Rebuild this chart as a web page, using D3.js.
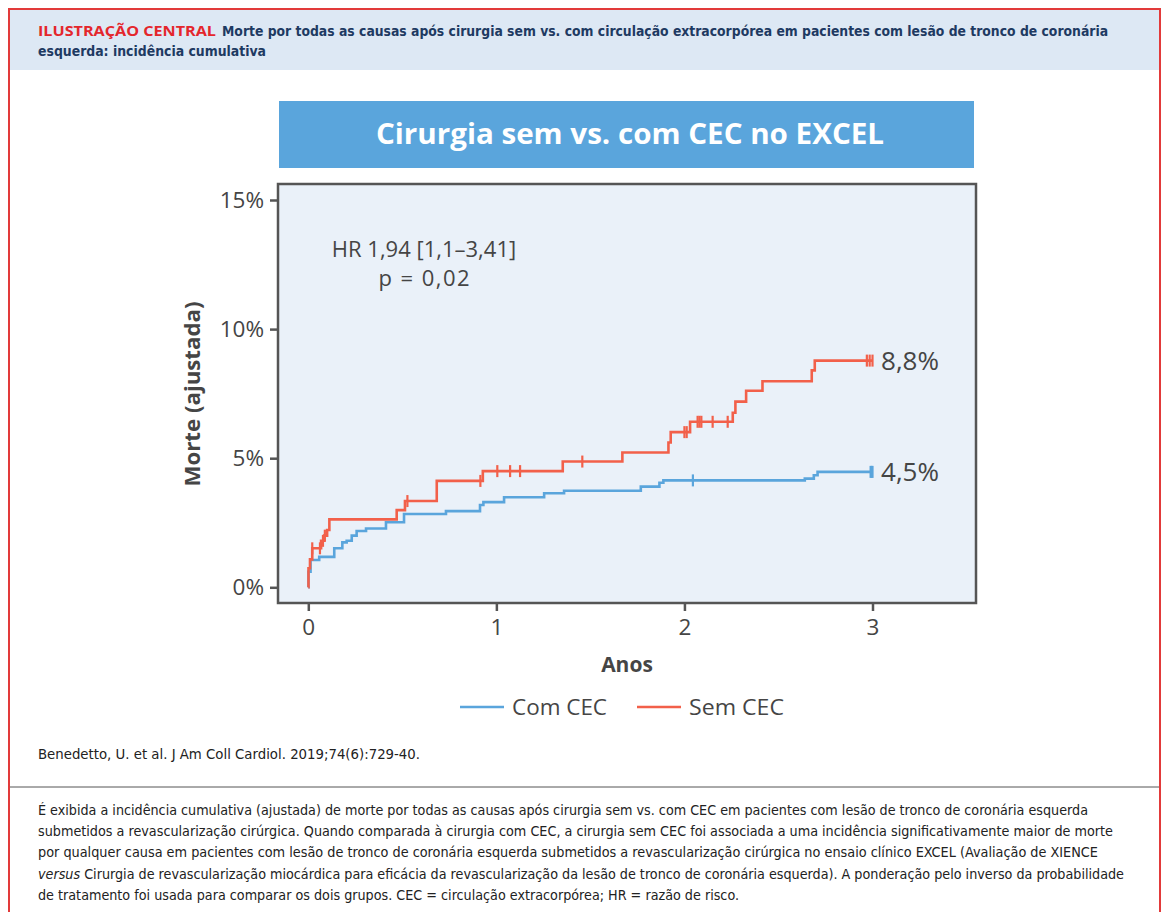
<!DOCTYPE html>
<html><head><meta charset="utf-8">
<script src="https://cdn.jsdelivr.net/npm/d3@7"></script>
<style>
html,body{margin:0;padding:0;background:#fff;}
svg{display:block;}
</style></head>
<body>
<script>
// ---- data ----
const comTimes  = [0, 0.001, 0.012, 0.058, 0.138, 0.181, 0.204, 0.231, 0.257, 0.307, 0.413, 0.509, 0.732, 0.913, 0.931, 1.041, 1.254, 1.36, 1.768, 1.867, 1.888, 2.64, 2.688, 2.708, 3.0];
const comValues = [0, 0.6, 1.06, 1.18, 1.51, 1.74, 1.8, 2.0, 2.18, 2.28, 2.52, 2.84, 2.95, 3.19, 3.3, 3.49, 3.64, 3.74, 3.9, 4.05, 4.14, 4.21, 4.34, 4.47, 4.47];
const semTimes  = [0, 0.001, 0.009, 0.021, 0.068, 0.085, 0.1, 0.112, 0.47, 0.514, 0.683, 0.928, 1.353, 1.67, 1.915, 1.927, 2.03, 2.257, 2.271, 2.328, 2.415, 2.677, 2.693, 3.0];
const semValues = [0, 0.74, 1.08, 1.51, 1.8, 2.0, 2.22, 2.63, 2.99, 3.34, 4.12, 4.5, 4.87, 5.22, 5.61, 6.01, 6.41, 6.76, 7.19, 7.61, 7.98, 8.4, 8.78, 8.78];
const comCensor = [2.045, 2.99, 2.995, 3.0];
const semCensor = [0.021, 0.062, 0.078, 0.088, 0.527, 0.915, 1.005, 1.073, 1.126, 1.457, 2.0, 2.012, 2.07, 2.08, 2.09, 2.15, 2.23, 2.97, 2.985, 3.0];
const xTicks = [0, 1, 2, 3];
const yTicks = [0, 5, 10, 15];
const seriesNames = ["Com CEC", "Sem CEC"];
const endLabels = ["4,5%", "8,8%"];

const W = 1164, H = 912;
const blue = "#5aa5dc", red = "#f2604a", txt = "#454545";
const svg = d3.select("body").append("svg").attr("width", W).attr("height", H);
const font = "'Open Sans', 'Noto Sans', sans-serif";

// outer frame + header band
svg.append("rect").attr("x", 9).attr("y", 9).attr("width", 1151).attr("height", 61).attr("fill", "#dde8f4");
svg.append("rect").attr("x", 9).attr("y", 9).attr("width", 1151).attr("height", 930)
  .attr("fill", "none").attr("stroke", "#e23a3a").attr("stroke-width", 2);

function fitText(sel, x, y, str, len, opts) {
  const t = sel.append("text").attr("x", x).attr("y", y).text(str)
    .attr("font-family", opts.family || "'Liberation Sans Narrow','DejaVu Sans Condensed','Roboto',sans-serif")
    .attr("font-size", opts.size).attr("font-weight", opts.weight || "normal")
    .attr("fill", opts.fill || "#222");
  if (len) t.attr("textLength", len).attr("lengthAdjust", "spacingAndGlyphs");
  return t;
}
fitText(svg, 38, 36, "ILUSTRAÇÃO CENTRAL", 178, {size: 14.5, weight: "bold", fill: "#e4262c", family: "'Open Sans',sans-serif"});
fitText(svg, 222, 36, "Morte por todas as causas após cirurgia sem vs. com circulação extracorpórea em pacientes com lesão de tronco de coronária", 886, {size: 14, weight: "bold", fill: "#1e3a62"});
fitText(svg, 38, 56, "esquerda: incidência cumulativa", 228, {size: 14.5, weight: "bold", fill: "#1e3a62"});

// title box
svg.append("rect").attr("x", 279).attr("y", 101).attr("width", 695).attr("height", 67).attr("fill", blue);
svg.append("text").attr("x", 630).attr("y", 144).attr("text-anchor", "middle")
  .attr("font-family", font).attr("font-weight", "bold").attr("font-size", 28).attr("fill", "#fff")
  .attr("textLength", 508).attr("lengthAdjust", "spacingAndGlyphs")
  .text("Cirurgia sem vs. com CEC no EXCEL");

// scales
const x = d3.scaleLinear().domain([0, 3]).range([308.3, 872.5]);
const y = d3.scaleLinear().domain([0, 15]).range([587.3, 200]);
const frame = {x0: 278, y0: 184, x1: 976, y1: 603};

svg.append("rect").attr("x", frame.x0).attr("y", frame.y0).attr("width", frame.x1 - frame.x0).attr("height", frame.y1 - frame.y0)
  .attr("fill", "#eaf1f9").attr("stroke", "#555").attr("stroke-width", 2.5);

// axes
const yAxis = svg.append("g").attr("transform", `translate(${frame.x0},0)`)
  .call(d3.axisLeft(y).tickValues(yTicks).tickFormat(d => d + "%").tickSize(8).tickPadding(6));
const xAxis = svg.append("g").attr("transform", `translate(0,${frame.y1})`)
  .call(d3.axisBottom(x).tickValues(xTicks).tickFormat(d => d).tickSize(8).tickPadding(8));
[yAxis, xAxis].forEach(g => {
  g.select(".domain").remove();
  g.selectAll(".tick line").attr("stroke", "#555").attr("stroke-width", 2.5);
  g.selectAll(".tick text").attr("fill", txt).attr("font-family", font).attr("font-size", 22.5);
});

svg.append("text").attr("x", 627).attr("y", 672).attr("text-anchor", "middle")
  .attr("font-family", font).attr("font-weight", "bold").attr("font-size", 21).attr("fill", txt).text("Anos");
svg.append("text").attr("transform", "translate(200,394) rotate(-90)").attr("text-anchor", "middle")
  .attr("font-family", font).attr("font-weight", "bold").attr("font-size", 21).attr("fill", txt)
  .attr("textLength", 185).attr("lengthAdjust", "spacingAndGlyphs").text("Morte (ajustada)");

// HR text
svg.append("text").attr("x", 424).attr("y", 257).attr("text-anchor", "middle")
  .attr("font-family", font).attr("font-size", 22).attr("fill", txt).text("HR 1,94 [1,1–3,41]");
svg.append("text").attr("x", 424).attr("y", 286).attr("text-anchor", "middle")
  .attr("font-family", font).attr("font-size", 22).attr("fill", txt)
  .attr("textLength", 91).attr("lengthAdjust", "spacing").text("p = 0,02");

// curves
const line = d3.line().x(d => x(d[0])).y(d => y(d[1])).curve(d3.curveStepAfter);
const series = [
  {t: comTimes, v: comValues, c: comCensor, col: blue},
  {t: semTimes, v: semValues, c: semCensor, col: red}
];
function stepAt(s, t) {
  let val = s.v[0];
  for (let i = 0; i < s.t.length; i++) if (s.t[i] <= t) val = s.v[i];
  return val;
}
series.forEach(s => {
  const pts = s.t.map((t, i) => [t, s.v[i]]);
  svg.append("path").attr("d", line(pts)).attr("fill", "none").attr("stroke", s.col).attr("stroke-width", 2.6);
  svg.append("g").selectAll("line").data(s.c).join("line")
    .attr("x1", d => x(d)).attr("x2", d => x(d))
    .attr("y1", d => y(stepAt(s, d)) - 6).attr("y2", d => y(stepAt(s, d)) + 6)
    .attr("stroke", s.col).attr("stroke-width", 2.2);
});

// end labels
[[comValues, 0], [semValues, 1]].forEach(([vals, i]) => {
  svg.append("text").attr("x", 881).attr("y", y(vals[vals.length - 1]) + 9)
    .attr("font-family", font).attr("font-size", 25).attr("fill", txt)
    .attr("textLength", 58).attr("lengthAdjust", "spacingAndGlyphs").text(endLabels[i]);
});

// legend
const leg = [{x: 460, col: blue}, {x: 637, col: red}];
leg.forEach((l, i) => {
  svg.append("line").attr("x1", l.x).attr("x2", l.x + 44).attr("y1", 707).attr("y2", 707)
    .attr("stroke", l.col).attr("stroke-width", 2.6);
  svg.append("text").attr("x", l.x + 52).attr("y", 715).attr("font-family", font).attr("font-size", 22)
    .attr("fill", txt).attr("textLength", 95).attr("lengthAdjust", "spacingAndGlyphs").text(seriesNames[i]);
});

// footer
fitText(svg, 38, 759, "Benedetto, U. et al. J Am Coll Cardiol. 2019;74(6):729-40.", 382, {size: 13.5, fill: "#222"});
svg.append("line").attr("x1", 10).attr("x2", 1159).attr("y1", 787).attr("y2", 787).attr("stroke", "#555").attr("stroke-width", 1);

const para = [
  ["É exibida a incidência cumulativa (ajustada) de morte por todas as causas após cirurgia sem vs. com CEC em pacientes com lesão de tronco de coronária esquerda", 1050],
  ["submetidos a revascularização cirúrgica. Quando comparada à cirurgia com CEC, a cirurgia sem CEC foi associada a uma incidência significativamente maior de morte", 1075],
  ["por qualquer causa em pacientes com lesão de tronco de coronária esquerda submetidos a revascularização cirúrgica no ensaio clínico EXCEL (Avaliação de XIENCE", 1060],
  ["versus| Cirurgia de revascularização miocárdica para eficácia da revascularização da lesão de tronco de coronária esquerda). A ponderação pelo inverso da probabilidade", 1086],
  ["de tratamento foi usada para comparar os dois grupos. CEC = circulação extracorpórea; HR = razão de risco.", 701]
];
para.forEach((p, i) => {
  const yy = 815 + i * 21.2;
  const t = svg.append("text").attr("x", 38).attr("y", yy)
    .attr("font-family", "'Liberation Sans Narrow','DejaVu Sans Condensed','Roboto',sans-serif")
    .attr("font-size", 13.5).attr("fill", "#222")
    .attr("textLength", p[1]).attr("lengthAdjust", "spacingAndGlyphs");
  if (p[0].includes("|")) {
    const parts = p[0].split("|");
    t.append("tspan").attr("font-style", "italic").text(parts[0]);
    t.append("tspan").text(parts[1]);
  } else t.text(p[0]);
});
</script>
</body></html>
